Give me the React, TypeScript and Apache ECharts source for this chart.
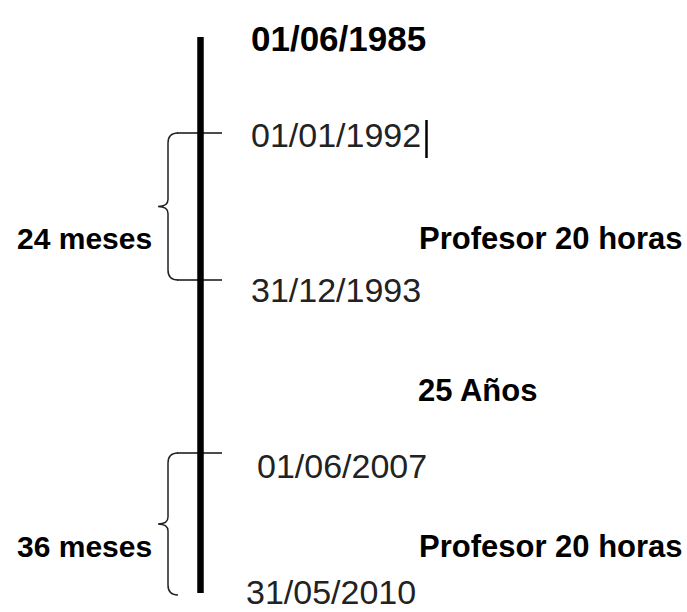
import React, { useEffect, useRef } from "react";
import * as echarts from "echarts";

// Diagram space = page pixels (x to the right, y downward)
const W = 687;
const H = 612;

// Main timeline
const timelineX = 200.5;
const timelineY = [37, 593];

// Event ticks on the timeline (y positions)
const tickY = [133, 280, 453];
const tickStartX = 177;
const tickEndX = 222;

// Date labels
const dateLabels = ["01/06/1985", "01/01/1992", "31/12/1993", "01/06/2007", "31/05/2010"];
const dateX = [251, 251, 251, 257, 246];
const dateY = [38, 135, 290, 466, 592];
const dateBold = [true, false, false, false, false];

// Braces: [top y, bottom y]
const braceTop = [133, 453];
const braceBottom = [280, 595];
const braceLabels = ["24 meses", "36 meses"];
const braceLabelY = [238, 546];

// Right-side annotations
const notes = ["Profesor 20 horas", "25 Años", "Profesor 20 horas"];
const noteX = [419, 418, 419];
const noteY = [238, 390, 546];

// Text cursor artifact after 01/01/1992
const cursorX = 426;
const cursorY = [120, 158];

export default function App() {
  const ref = useRef<HTMLDivElement>(null);
  useEffect(() => {
    document.body.style.margin = "0";
    const chart = echarts.init(ref.current!, undefined, { renderer: "svg" });

    const texts: any[] = [];
    dateLabels.forEach((t, i) =>
      texts.push({
        value: [dateX[i], dateY[i]],
        text: t,
        bold: dateBold[i],
        size: dateBold[i] ? 35 : 34,
        align: "left",
      })
    );
    braceLabels.forEach((t, i) =>
      texts.push({ value: [17, braceLabelY[i]], text: t, bold: true, size: 30, align: "left" })
    );
    notes.forEach((t, i) =>
      texts.push({ value: [noteX[i], noteY[i]], text: t, bold: true, size: 31, align: "left" })
    );

    chart.setOption({
      animation: false,
      backgroundColor: "#ffffff",
      grid: { left: 0, right: 0, top: 0, bottom: 0 },
      xAxis: { type: "value", min: 0, max: W, show: false },
      yAxis: { type: "value", min: 0, max: H, inverse: true, show: false },
      series: [
        {
          type: "line",
          data: [
            [timelineX, timelineY[0]],
            [timelineX, timelineY[1]],
          ],
          symbol: "none",
          lineStyle: { color: "#000", width: 6.5, cap: "butt" },
          silent: true,
        },
        {
          type: "lines",
          coordinateSystem: "cartesian2d",
          data: [
            ...tickY.map((y) => ({
              coords: [
                [tickStartX, y],
                [tickEndX, y],
              ],
            })),
            {
              coords: [
                [cursorX, cursorY[0]],
                [cursorX, cursorY[1]],
              ],
              lineStyle: { width: 2.5, color: "#000" },
            },
          ],
          lineStyle: { color: "#111", width: 1.5, opacity: 1 },
          silent: true,
        },
        {
          type: "custom",
          clip: false,
          data: braceTop.map((t, i) => [168, t, braceBottom[i]]),
          encode: { x: [0], y: [1, 2] },
          renderItem: (params: any, api: any) => {
            const xv = api.value(0);
            const yT = api.value(1);
            const yB = api.value(2);
            const ym = (yT + yB) / 2;
            const c = (x: number, y: number) => api.coord([x, y]);
            const p = (pt: number[]) => `${pt[0]},${pt[1]}`;
            const xe = 178;
            const xc = 158;
            const d =
              `M${p(c(xe, yT))} Q${p(c(xv, yT))} ${p(c(xv, yT + 10))} ` +
              `L${p(c(xv, ym - 7))} Q${p(c(xv, ym))} ${p(c(xc, ym))} ` +
              `Q${p(c(xv, ym))} ${p(c(xv, ym + 7))} ` +
              `L${p(c(xv, yB - 10))} Q${p(c(xv, yB))} ${p(c(xe, yB))}`;
            return {
              type: "path",
              shape: { pathData: d },
              style: { stroke: "#222", fill: "none", lineWidth: 1.5 },
            };
          },
          silent: true,
        },
        {
          type: "custom",
          clip: false,
          data: texts.map((t) => t.value),
          encode: { x: [0], y: [1] },
          renderItem: (params: any, api: any) => {
            const t = texts[params.dataIndex];
            const pt = api.coord([api.value(0), api.value(1)]);
            return {
              type: "text",
              x: pt[0],
              y: pt[1],
              style: {
                text: t.text,
                fontFamily: "Liberation Sans, Arial, sans-serif",
                fontSize: t.size,
                fontWeight: t.bold ? "bold" : "normal",
                fill: t.bold ? "#000" : "#222",
                align: t.align,
                verticalAlign: "middle",
                textAlign: t.align,
                textVerticalAlign: "middle",
              },
            };
          },
          silent: true,
        },
      ],
    });
    return () => chart.dispose();
  }, []);
  return <div ref={ref} style={{ width: W, height: H }} />;
}
